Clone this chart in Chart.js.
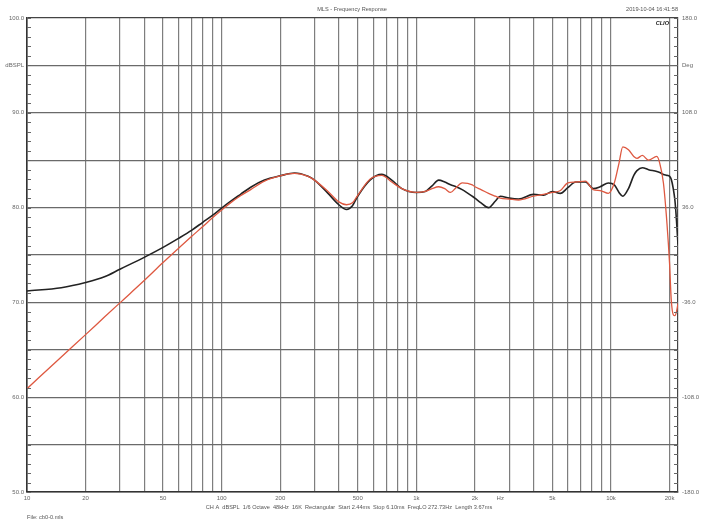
<!DOCTYPE html>
<html><head><meta charset="utf-8">
<script src="https://cdn.jsdelivr.net/npm/chart.js@4/dist/chart.umd.min.js"></script>
<style>html,body{margin:0;padding:0;background:#fff;}#wrap{position:relative;width:705px;height:530px;}</style>
</head><body><div id="wrap"><canvas id="c" width="705" height="530"></canvas></div>
<script>
const freqHz = [10,15,20,25,30,40,50,60,70,80,90,100,111,125,141,166,200,237,278,300,352,400,438,470,500,578,664,748,843,1000,1112,1205,1303,1400,1500,1600,1720,1940,2000,2150,2350,2550,2700,3000,3350,4000,4500,5000,5500,6000,6600,7400,8100,8800,9700,10400,11000,11500,12300,13100,13600,14500,15600,17200,17800,18600,19400,20000,20400,20900,21300,21700,22100];
const blackDb = [71.2,71.55,72.1,72.7,73.5, 74.75,75.8,76.75,77.6,78.45, 79.2,79.95,80.65,81.4,82.15, 82.9,83.35,83.65,83.3,82.9, 81.5,80.3,79.8,80.2,81.2, 82.9,83.5,82.9,82.0,81.6, 81.7,82.3,82.9,82.7,82.4, 82.2,81.9,81.2,81.0,80.5, 80.0,80.7,81.2,81.0,80.9, 81.4,81.3,81.7,81.5,82.1, 82.7,82.7,82.0,82.2,82.6, 82.4,81.6,81.2,82.0,83.4, 83.9,84.2,84.0,83.8,83.7, 83.5,83.4,83.3,83.0,82.0, 80.8,78.7,76.1];
const redDb = [60.9,64.25,66.6,68.45,69.95, 72.3,74.2,75.7,76.95,78.0, 78.95,79.75,80.5,81.25,81.9, 82.8,83.35,83.6,83.3,82.9, 81.7,80.6,80.3,80.5,81.3, 83.0,83.4,82.7,82.0,81.6, 81.7,82.0,82.2,82.0,81.6, 82.1,82.6,82.4,82.2,81.9, 81.5,81.2,81.0,80.9,80.8, 81.2,81.4,81.6,81.8,82.6, 82.7,82.8,81.9,81.8,81.5, 82.6,84.7,86.4,86.1,85.4, 85.2,85.5,85.0,85.4,84.7, 82.6,78.3,74.1,70.3,68.7, 68.6,69.0,69.9];

const xGridValues = [10,20,30,40,50,60,70,80,90,100,200,300,400,500,600,700,800,900,1000,2000,3000,4000,5000,6000,7000,8000,9000,10000,20000];
const xTickLabels = {10:'10',20:'20',50:'50',100:'100',200:'200',500:'500',1000:'1k',2000:'2k',5000:'5k',10000:'10k',20000:'20k'};
const xUnitLabel = 'Hz';
const xUnitAt = 2700;
const yTickLabels = {100:'100.0',95:'dBSPL',90:'90.0',80:'80.0',70:'70.0',60:'60.0',50:'50.0'};
const degTickLabels = {'180':'180.0','144':'Deg','108':'108.0','36':'36.0','-36':'-36.0','-108':'-108.0','-180':'-180.0'};
const titleText = 'MLS - Frequency Response';
const dateText = '2019-10-04 16:41:58';
const brandText = 'CLIO';
const infoText = 'CH A  dBSPL  1/6 Octave  48kHz  16K  Rectangular  Start 2.44ms  Stop 6.10ms  FreqLO 272.73Hz  Length 3.67ms';
const fileText = 'File: cb0-0.mls';

const FONT = '"Liberation Sans", Arial, sans-serif';
const pts = arr => freqHz.map((f,i)=>({x:f,y:arr[i]}));

const extras = {
  id:'extras',
  afterDraw(chart){
    const c = chart.ctx, y = chart.scales.y, a = chart.chartArea;
    c.save();
    c.strokeStyle = '#666'; c.lineWidth = 1;
    for (let v = 50; v <= 100; v++) {
      const py = Math.round(y.getPixelForValue(v)) + 0.5;
      c.beginPath();
      c.moveTo(a.left, py); c.lineTo(a.left + 4, py);
      c.moveTo(a.right, py); c.lineTo(a.right - 4, py);
      c.stroke();
    }
    c.fillStyle = '#555';
    c.textBaseline = 'middle';
    c.font = '5.6px ' + FONT;
    c.textAlign = 'center';
    c.fillText(titleText, 352, 9);
    c.textAlign = 'right';
    c.fillText(dateText, 678, 9);
    c.font = 'bold italic 5.6px ' + FONT;
    c.fillStyle = '#222';
    c.fillText(brandText, 669, 23);
    c.font = '5.6px ' + FONT;
    c.fillStyle = '#555';
    c.textAlign = 'center';
    c.fillText(infoText, 349, 507);
    c.textAlign = 'left';
    c.fillText(fileText, 27, 517);
    c.restore();
  }
};

new Chart(document.getElementById('c'), {
  type:'line',
  data:{datasets:[
    {label:'red', data:pts(redDb), borderColor:'#de5840', borderWidth:1.3, pointRadius:0, cubicInterpolationMode:'monotone', fill:false},
    {label:'black', data:pts(blackDb), borderColor:'#222222', borderWidth:1.6, pointRadius:0, cubicInterpolationMode:'monotone', fill:false}
  ]},
  options:{
    responsive:false, animation:false, devicePixelRatio:1,
    layout:{padding:{top:18,left:0,right:0,bottom:0}},
    plugins:{legend:{display:false}, tooltip:{enabled:false}, title:{display:false}},
    scales:{
      x:{type:'logarithmic', min:10, max:22100,
        afterBuildTicks:s=>{ s.ticks = xGridValues.concat([xUnitAt]).sort((p,q)=>p-q).map(v=>({value:v})); },
        afterFit:s=>{ s.height = 38; },
        ticks:{autoSkip:false, maxRotation:0, minRotation:0, padding:3, color:'#666', font:{family:FONT, size:6},
          callback:(v)=> v===xUnitAt ? xUnitLabel : (xTickLabels[v] || '')},
        grid:{drawTicks:false, lineWidth:1.2, color:ctx=> (ctx.tick && ctx.tick.value===xUnitAt) ? 'rgba(0,0,0,0)' : '#7e7e7e'},
        border:{display:true, color:'#333', width:1.6}
      },
      y:{position:'left', min:50, max:100,
        afterFit:s=>{ s.width = 27; },
        ticks:{stepSize:5, autoSkip:false, padding:3, color:'#666', font:{family:FONT, size:6},
          callback:(v)=> yTickLabels[v] || ''},
        grid:{drawTicks:false, lineWidth:1.2, color:ctx=> (ctx.tick && ctx.tick.value===100) ? '#444' : '#6a6a6a'},
        border:{display:true, color:'#333', width:1.6}
      },
      y2:{position:'right', min:-180, max:180,
        afterFit:s=>{ s.width = 27; },
        ticks:{stepSize:36, autoSkip:false, padding:4, color:'#666', font:{family:FONT, size:6},
          callback:(v)=> degTickLabels[String(Math.round(v))] || ''},
        grid:{drawTicks:false, color:'rgba(0,0,0,0)'},
        border:{display:true, color:'#444', width:1.2}
      }
    }
  },
  plugins:[extras]
});
</script>
</body></html>
